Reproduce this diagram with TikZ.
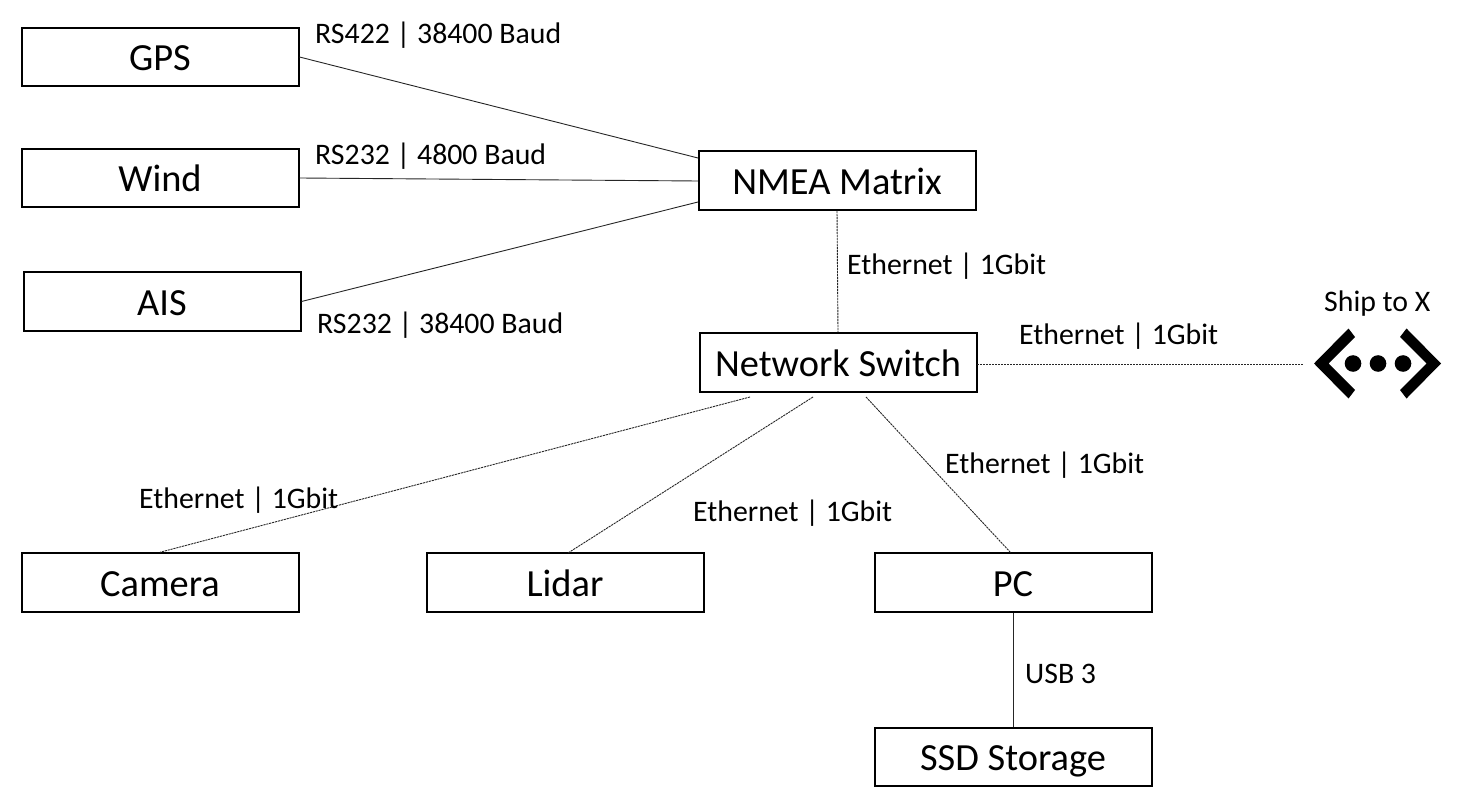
\documentclass[tikz,border=0pt]{standalone}
\usepackage{fontspec}
\setmainfont{Carlito}
\begin{document}
\begin{tikzpicture}[x=1pt,y=-1pt,
  device/.style={draw=black,line width=2pt,fill=white,minimum width=277pt,minimum height=58.5pt,inner sep=0pt,text height=30pt,text depth=2.5pt,font=\fontsize{38.4}{42}\selectfont},
  linklabel/.style={anchor=west,inner sep=0pt,text height=24pt,text depth=4pt,font=\fontsize{29.8}{34}\selectfont},
  serial/.style={draw=black!85,line width=0.9pt},
  ether/.style={draw=black!85,line width=0.9pt,dash pattern=on 2.2pt off 0.8pt}]
\useasboundingbox (0,0) rectangle (1466,802);
% devices
\node[device] (gps) at (160,57) {GPS};
\node[device] (wind) at (160,178) {Wind};
\node[device] (ais) at (162,301.5) {AIS};
\node[device] (nmea) at (837,180.5) {NMEA Matrix};
\node[device] (switch) at (838,362.5) {Network Switch};
\node[device] (camera) at (160,582.5) {Camera};
\node[device] (lidar) at (565,582.5) {Lidar};
\node[device] (pc) at (1013,582.5) {PC};
\node[device] (ssd) at (1013,757) {SSD Storage};
% attachment points on the box edges and free line ends
\coordinate (nmeaA) at (698,158);
\coordinate (nmeaB) at (698,181);
\coordinate (nmeaC) at (698,202);
\coordinate (swCam) at (750,397);
\coordinate (swLid) at (813,397);
\coordinate (swPc) at (866,397);
\coordinate (swLink) at (977,364);
\coordinate (linkEnd) at (1303,364);
\coordinate (lidTop) at (568,553);
\coordinate (pcTop) at (1011,553);
% serial links
\draw[serial] (gps.east) -- (nmeaA);
\draw[serial] (wind.east) -- (nmeaB);
\draw[serial] (ais.east) -- (nmeaC);
\draw[serial] (pc.south) -- (ssd.north);
% ethernet links
\draw[ether] (nmea.south) -- (switch.north);
\draw[ether] (swLink) -- (linkEnd);
\draw[ether] (swCam) -- (camera.north);
\draw[ether] (swLid) -- (lidTop);
\draw[ether] (swPc) -- (pcTop);
% link labels
\node[linklabel] (l1) at (315,34) {RS422 | 38400 Baud};
\node[linklabel] (l2) at (315,155) {RS232 | 4800 Baud};
\node[linklabel] (l3) at (317,323) {RS232 | 38400 Baud};
\node[linklabel] (l4) at (847,265) {Ethernet | 1Gbit};
\node[linklabel] (l5) at (1019,334) {Ethernet | 1Gbit};
\node[linklabel] (l6) at (945,463) {Ethernet | 1Gbit};
\node[linklabel] (l7) at (693,511) {Ethernet | 1Gbit};
\node[linklabel] (l8) at (139,498) {Ethernet | 1Gbit};
\node[linklabel] (l9) at (1025,673) {USB 3};
\node[linklabel] (l10) at (1324,301) {Ship to X};
% remote link symbol
\fill (1314,363.5) -- (1348.5,328.5) -- (1355,337) -- (1328.5,363.5) -- (1355,390) -- (1348.5,398.5) -- cycle;
\fill (1441,363.5) -- (1406.5,328.5) -- (1400,337) -- (1426.5,363.5) -- (1400,390) -- (1406.5,398.5) -- cycle;
\fill (1353,363.5) circle (8.3);
\fill (1378,363.5) circle (8.3);
\fill (1403,363.5) circle (8.3);
\end{tikzpicture}
\end{document}
